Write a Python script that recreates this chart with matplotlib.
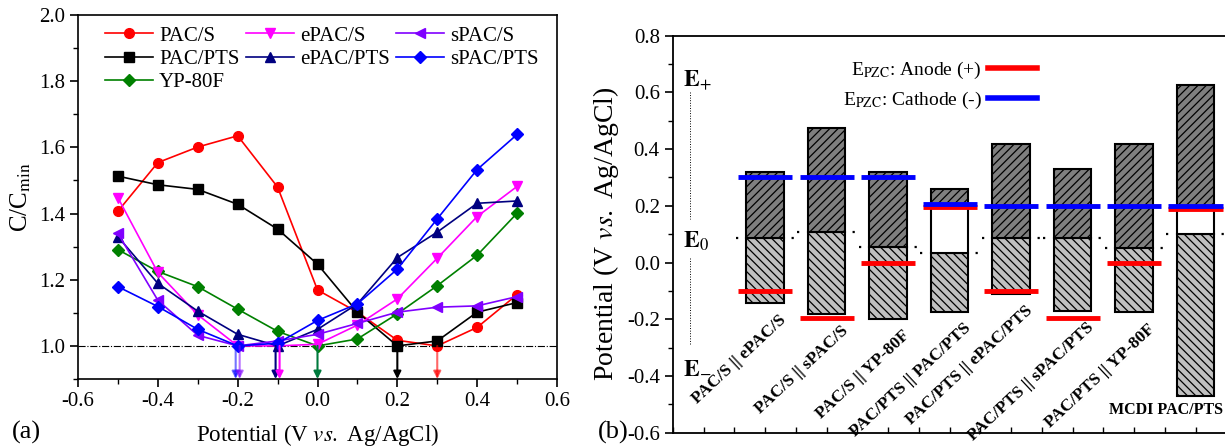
import numpy as np
import matplotlib
matplotlib.use('Agg')
import matplotlib.pyplot as plt
from matplotlib.lines import Line2D

plt.rcParams['font.family'] = ['Liberation Serif', 'DejaVu Serif']
plt.rcParams['mathtext.fontset'] = 'stix'
plt.rcParams['axes.unicode_minus'] = False
plt.rcParams['hatch.linewidth'] = 0.9

# ---- (a) normalised capacitance vs potential ----
potential = [-0.5, -0.4, -0.3, -0.2, -0.1, 0.0, 0.1, 0.2, 0.3, 0.4, 0.5]
pac_s = [1.407, 1.554, 1.601, 1.635, 1.480, 1.169, 1.102, 1.017, 1.000, 1.056, 1.155]
epac_s = [1.448, 1.222, 1.094, 1.000, 1.000, 1.005, 1.063, 1.142, 1.265, 1.391, 1.482]
spac_s = [1.340, 1.138, 1.032, 1.000, 1.015, 1.035, 1.068, 1.102, 1.117, 1.121, 1.149]
pac_pts = [1.513, 1.487, 1.473, 1.428, 1.353, 1.247, 1.102, 1.000, 1.015, 1.102, 1.131]
epac_pts = [1.330, 1.189, 1.105, 1.035, 1.000, 1.050, 1.127, 1.267, 1.344, 1.431, 1.438]
spac_pts = [1.179, 1.119, 1.050, 1.000, 1.008, 1.077, 1.127, 1.232, 1.384, 1.533, 1.639]
yp80f = [1.291, 1.225, 1.179, 1.111, 1.044, 1.000, 1.021, 1.097, 1.182, 1.274, 1.401]

# E_pzc arrows (x position, colour, alpha)
pzc_x = [-0.205, -0.195, -0.105, -0.095, 0.0, 0.2, 0.3]
pzc_col = ['#0000ff', '#8000ff', '#000080', '#ff00ff', '#007a3d', 'black', '#ff0000']
pzc_alpha = [0.55, 0.55, 1.0, 1.0, 1.0, 1.0, 0.6]

# ---- (b) potential windows ----
pair_labels = ['PAC/S || ePAC/S', 'PAC/S || sPAC/S', 'PAC/S || YP-80F',
               'PAC/PTS || PAC/PTS', 'PAC/PTS || ePAC/PTS', 'PAC/PTS || sPAC/PTS',
               'PAC/PTS || YP-80F', 'MCDI PAC/PTS']
e_top = [0.321, 0.476, 0.318, 0.261, 0.419, 0.329, 0.419, 0.627]
e_zero = [0.085, 0.106, 0.056, 0.033, 0.085, 0.085, 0.053, 0.100]
e_bottom = [-0.144, -0.181, -0.198, -0.174, -0.110, -0.171, -0.176, -0.469]
pzc_anode = [-0.100, -0.195, 0.000, 0.195, -0.100, -0.195, 0.000, 0.190]
pzc_cathode = [0.300, 0.300, 0.300, 0.208, 0.200, 0.200, 0.200, 0.200]

fig = plt.figure(figsize=(12.25, 4.48), dpi=100)

# ================= panel (a) =================
ax0 = fig.add_axes([78/1225, 69/448, 479/1225, 364/448])
series = [
    ('PAC/S', pac_s, '#ff0000', 'o', 7),
    ('PAC/PTS', pac_pts, 'black', 's', 6.5),
    ('YP-80F', yp80f, '#008000', 'D', 6),
    ('ePAC/S', epac_s, '#ff00ff', 'v', 7.5),
    ('ePAC/PTS', epac_pts, '#000080', '^', 7.5),
    ('sPAC/S', spac_s, '#8000ff', '<', 7.5),
    ('sPAC/PTS', spac_pts, '#0000ff', 'D', 6.5),
]
for name, vals, col, mk, ms in series:
    ax0.plot(potential, vals, color=col, marker=mk, markersize=ms, lw=1.2, label=name)
ax0.axhline(1.0, color='black', lw=0.8, ls='-.', zorder=1)
for x, c, a in zip(pzc_x, pzc_col, pzc_alpha):
    ax0.annotate('', xy=(x, 0.9), xytext=(x, 1.0),
                 arrowprops=dict(arrowstyle='-|>', color=c, alpha=a, lw=1.5,
                                 mutation_scale=11, shrinkA=0, shrinkB=0))
ax0.set_xlim(-0.6, 0.6)
ax0.set_ylim(0.9, 2.0)
ax0.set_xticks(np.arange(-0.6, 0.61, 0.2))
ax0.set_xticks(np.arange(-0.6, 0.61, 0.1), minor=True)
ax0.set_yticks(np.arange(1.0, 2.01, 0.2))
ax0.set_yticks(np.arange(0.9, 2.01, 0.1), minor=True)
ax0.xaxis.set_major_formatter(matplotlib.ticker.FormatStrFormatter('%.1f'))
ax0.yaxis.set_major_formatter(matplotlib.ticker.FormatStrFormatter('%.1f'))
ax0.tick_params(which='major', direction='out', length=6, width=1.2, labelsize=15)
ax0.tick_params(which='minor', direction='out', length=3.5, width=1.0)
for s in ax0.spines.values():
    s.set_linewidth(1.2)
ax0.set_xlabel(r'Potential (V $\it{vs.}$ Ag/AgCl)', fontsize=16.5, labelpad=8)
ax0.set_ylabel(r'C/C$_{\rm min}$', fontsize=18, labelpad=4)
ax0.legend(loc='upper left', bbox_to_anchor=(105/1225, 1 - 26/448),
           bbox_transform=fig.transFigure, ncol=3, frameon=False, fontsize=15,
           borderpad=0, borderaxespad=0, handlelength=2.3, handletextpad=0.3,
           columnspacing=0.3, labelspacing=0.18)
fig.text(12/1225, 1 - 432/448, '(a)', fontsize=19, va='center', ha='left')

# ================= panel (b) =================
ax1 = fig.add_axes([673/1225, 15.3/448, 584/1225, 397/448])
pos = np.arange(1, len(pair_labels) + 1)
bw = 0.61
half = 0.44
for i, x in enumerate(pos):
    lo, mid, hi = e_bottom[i], e_zero[i], e_top[i]
    dark_lo = max(mid, pzc_anode[i])
    ax1.plot([x - 0.48, x + 0.5], [mid, mid], color='black', lw=1.6,
             ls=(0, (1, 4)), zorder=1)
    ax1.bar(x, mid - lo, bw, bottom=lo, color='#c0c0c0', edgecolor='black',
            hatch='\\\\\\\\', lw=1.5, zorder=2)
    if dark_lo > mid:
        ax1.bar(x, dark_lo - mid, bw, bottom=mid, color='white', edgecolor='black',
                lw=1.5, zorder=2)
    ax1.bar(x, hi - dark_lo, bw, bottom=dark_lo, color='#7f7f7f', edgecolor='black',
            hatch='////', lw=1.5, zorder=2)
ax1.hlines(pzc_anode, pos - half, pos + half, color='#ff0000', lw=3.5, zorder=3)
ax1.hlines(pzc_cathode, pos - half, pos + half, color='#0000ff', lw=3.5, zorder=4)

for i, x in enumerate(pos[:-1]):
    ax1.text(x + 0.22, e_bottom[i] - 0.03, pair_labels[i], rotation=43,
             rotation_mode='anchor', ha='right', va='top', fontsize=12.5,
             fontweight='bold')
ax1.text(7.52, -0.52, pair_labels[-1], ha='center', va='center', fontsize=11.5,
         fontweight='bold')

# E+, E0, E- guide
ax1.text(-0.33, 0.645, r'$\mathbf{E}_{+}$', fontsize=17, va='center', ha='left')
ax1.text(-0.33, 0.075, r'$\mathbf{E}_{0}$', fontsize=17, va='center', ha='left')
ax1.text(-0.33, -0.37, r'$\mathbf{E}_{-}$', fontsize=17, va='center', ha='left')
ax1.plot([-0.22, -0.22], [0.60, 0.155], color='black', lw=0.7, ls=':')
ax1.plot([-0.22, -0.22], [0.015, -0.29], color='black', lw=0.7, ls=':')

ax1.set_xlim(-0.5, 9.0)
ax1.set_ylim(-0.6, 0.8)
ax1.set_xticks(np.arange(-0.5, 9.01, 0.5))
ax1.tick_params(axis='x', direction='in', length=4, width=1.0, labelbottom=False)
ax1.set_yticks(np.arange(-0.6, 0.81, 0.2))
ax1.set_yticks(np.arange(-0.6, 0.81, 0.1), minor=True)
ax1.yaxis.set_major_formatter(matplotlib.ticker.FormatStrFormatter('%.1f'))
ax1.tick_params(axis='y', which='major', direction='out', length=6, width=1.2,
                labelsize=15)
ax1.tick_params(axis='y', which='minor', direction='out', length=3.5, width=1.0)
for s in ax1.spines.values():
    s.set_linewidth(1.3)
ax1.set_ylabel(r'Potential (V $\it{vs.}$ Ag/AgCl)', fontsize=20, labelpad=4)

handles = [Line2D([], [], color='#ff0000', lw=4),
           Line2D([], [], color='#0000ff', lw=4)]
ax1.legend(handles, [r'E$_{\rm PZC}$: Anode (+)', r'E$_{\rm PZC}$: Cathode (-)'],
           loc='upper left', bbox_to_anchor=(843/1225, 1 - 60/448),
           bbox_transform=fig.transFigure, markerfirst=False, frameon=False,
           fontsize=14, borderpad=0, borderaxespad=0, handlelength=2.5,
           handletextpad=0.3, labelspacing=0.45)
fig.text(598/1225, 1 - 432/448, '(b)', fontsize=19, va='center', ha='left')

fig.savefig('out.png', dpi=100)
